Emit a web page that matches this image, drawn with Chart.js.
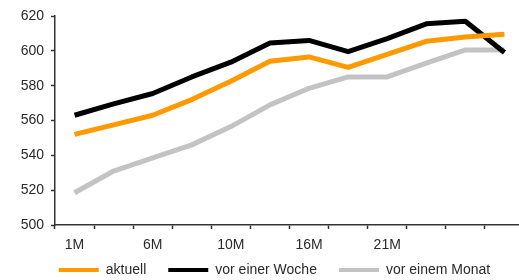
<!DOCTYPE html>
<html>
<head>
<meta charset="utf-8">
<script src="https://cdn.jsdelivr.net/npm/chart.js@4/dist/chart.umd.min.js"></script>
<style>
html,body{margin:0;padding:0;overflow:hidden;background:#fff;width:519px;height:280px}
canvas{display:block}
</style>
</head>
<body>
<canvas id="c" width="524" height="280"></canvas>
<script>
const categories = ['1M', '', '6M', '', '10M', '', '16M', '', '21M', '', '', ''];
const aktuell = [552, 557.5, 563, 572, 582.5, 594, 596.5, 590.5, 598, 605.5, 608, 609.5];
const vorEinerWoche = [563, 569.5, 575.5, 585, 593.5, 604.5, 606, 599.5, 607, 615.5, 617, 599];
const vorEinemMonat = [518.5, 531, 538.5, 546, 556.5, 569, 578.5, 585, 585, 593, 600.5, 600.5];
const yTicks = [500, 520, 540, 560, 580, 600, 620];
const seriesNames = ['aktuell', 'vor einer Woche', 'vor einem Monat'];

const FONT = "'Liberation Sans', Arial, sans-serif";
const TXT = '#2a2a2a';
const AX = '#333333';

function ds(label, data, color) {
  return {
    label, data,
    borderColor: color, backgroundColor: color,
    borderWidth: 5, pointRadius: 0, pointHoverRadius: 0,
    tension: 0, fill: false, borderCapStyle: 'butt', borderJoinStyle: 'round'
  };
}

// let tick labels draw outside the (deliberately narrow) axis boxes
function noLabelClip(s) { s._computeLabelArea = () => null; }

new Chart(document.getElementById('c'), {
  type: 'line',
  data: {
    labels: categories,
    datasets: [
      ds(seriesNames[0], aktuell, '#ff9900'),
      ds(seriesNames[1], vorEinerWoche, '#000000'),
      ds(seriesNames[2], vorEinemMonat, '#c3c3c3')
    ]
  },
  options: {
    responsive: false,
    animation: false,
    devicePixelRatio: 1,
    layout: { padding: { left: 25, right: 0, top: 16, bottom: 0 } },
    plugins: {
      tooltip: { enabled: false },
      legend: {
        position: 'bottom',
        maxHeight: 39,
        labels: {
          boxWidth: 40, boxHeight: 4, padding: 22,
          color: TXT,
          font: { family: FONT, size: 14 },
          generateLabels: (chart) => Chart.defaults.plugins.legend.labels.generateLabels(chart)
            .map(i => Object.assign(i, { lineWidth: 0 }))
        }
      }
    },
    scales: {
      x: {
        type: 'category',
        offset: true,
        grid: { offset: true, drawOnChartArea: false, drawTicks: true, tickLength: 4, color: AX, tickWidth: 1.5 },
        border: { display: true, color: AX, width: 1.5 },
        ticks: { autoSkip: false, maxRotation: 0, padding: 8, color: TXT, font: { family: FONT, size: 14 } },
        afterFit: (s) => { s.height = 16; noLabelClip(s); }
      },
      y: {
        min: 500, max: 620,
        afterBuildTicks: (s) => { s.ticks = yTicks.map(v => ({ value: v })); },
        grid: { drawOnChartArea: false, drawTicks: true, tickLength: 4, color: AX, tickWidth: 1.5 },
        border: { display: true, color: AX, width: 1.5 },
        ticks: { padding: 7, color: TXT, font: { family: FONT, size: 14 } },
        afterFit: (s) => { s.width = 30; noLabelClip(s); }
      }
    }
  }
});
</script>
</body>
</html>
